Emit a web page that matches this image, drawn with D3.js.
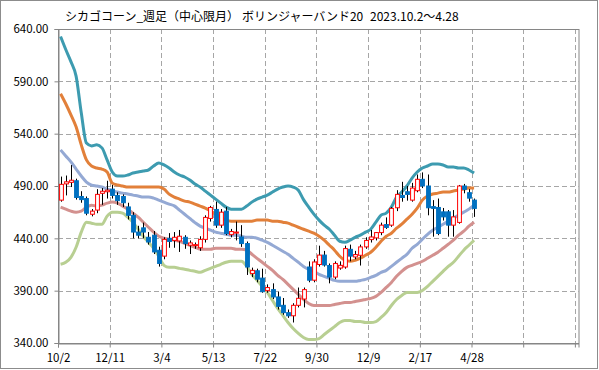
<!DOCTYPE html>
<html>
<head>
<meta charset="utf-8">
<script src="https://cdn.jsdelivr.net/npm/d3@7"></script>
<style>
  body { margin: 0; background: #fff; }
  svg { display: block; }
  text { font-family: "Noto Sans CJK JP", "Noto Sans", sans-serif; }
</style>
</head>
<body>
<div id="general"></div>
<script>
const w = 599, h = 370;

const title = ["シカゴコーン_週足（中心限月）", "ボリンジャーバンド20", "2023.10.2～4.28"];
const xLabels = ["10/2", "12/11", "3/4", "5/13", "7/22", "9/30", "12/9", "2/17", "4/28"];
const yTicks = [340, 390, 440, 490, 540, 590, 640];

// weekly candles (open / high / low / close)
const open = [476.5,492,493.5,495,480,478,463,467,483,484.5,
  487,481,480,470,462,446,450,441,443,428.6,
  423,440,438,437.5,441,433.4,433,431,439,459,
  467.6,452.6,466,443.5,445,441.3,435,406.3,409,402,
  390,391,384,376,369,366,376,382,412.6,400,
  415,424,414,403,411.6,412.6,429.5,422.2,423.8,431.8,
  438.8,440.4,445.5,453.2,452.6,469.2,481,484.5,476.5,485.5,
  496.4,490,470.3,469.5,465.3,465.3,452.6,455.2,490,483.6,476.5];
const high = [499,500,510,497,485,480,468,487,488,495,
  491,484,482,474,465,452,455,446,447,432,
  441,445,446,448,443,438,436,442,462,471,
  475,468,470,449,456,452.6,437,412,411,411,
  396,397,389,383,372,378,393,393,418,420,
  433,428,416,418,418,433,434,428,434,441,
  448,446,455,460,470,486,494,490,493,501,
  503,501,476.5,478,469,467,467,491,492,487,478];
const low = [475,481,489,477,474,462,461,464,472,478,
  478,472,470,458,440,440,440,434,425,413,
  420,431,431,427,430,425,430,428,436,456,
  450,450,443,441,438,431.8,405,403,398,388,
  388,382,372,367,364,359.6,374,374,398,398,
  413,413,397,401,410,411,418,420,414,430,
  436,438,443,449,451,466,475,476,475,484,
  488,462,441.6,443,457,441.6,441.6,454,483,475,460.5];
const close = [491.6,494,495.5,479,477,464,466,482,485,486,
  481,476,474,462,446,443,446,436.5,427,416,
  439,437,441,442,435,435.6,434,439,460,469.5,
  452.6,465,444.6,446.5,446,435,412.6,409.4,401,389,
  393,384,375,369,366,376,382.7,391,400,417.4,
  424,414.5,403,416,414.2,430.2,423,424.5,431.8,438,
  441.3,445.5,452.6,450.4,468.6,482,479,482,488,496.4,
  490,469.2,468.6,444.6,460.5,452.6,460.5,490,486.8,478.4,468.6];

// bollinger bands (+2σ, +1σ, MA20, -1σ, -2σ)
const upper2 = [632.8,620.4,608.8,595,560,531,528.3,529.3,526.4,514.9,
  503.4,499.5,499.5,500.5,502.4,503.4,504.3,505.3,509.1,512,
  510.1,507.2,503.4,500.5,498.6,495.7,491.9,489,485.1,481.3,
  477.5,473.6,469.8,467.9,467.9,467.9,470.8,474.6,477.5,479.4,
  481.3,484.2,487.1,489,490,489,486,477,469.8,463.1,
  457.4,452.6,448.7,443,437.2,436.2,438.2,441,443,445.9,
  448.7,455.4,462.1,464.1,469.8,479.4,484.2,490,497.6,503.4,
  507.2,509.1,511,511,510.1,508.2,508.2,507.2,507.2,505.3,502.4];
const upper1 = [578.2,568.6,558,546.5,529.3,514.9,509.1,507.2,506.2,503.4,
  492.8,490.9,490,489,489,489,489,489,489,489,
  487.1,482.3,479.4,477.5,475.6,474.6,472.7,470.8,468.9,466,
  463.1,460.2,457.4,456.4,456.4,456.4,456.4,456.4,457.4,457.4,
  457.4,456.4,456.4,455.4,454.5,452.6,450.6,448.7,446.8,444.9,
  442,438.2,433.4,428.7,422.9,419.1,418.1,419.1,421,423.8,
  426.7,431.5,437.2,442,444.9,449.7,453.5,458.3,463.1,468.9,
  476.5,480.4,482.3,483.2,484.2,484.2,485.2,486.1,487.1,488,488];
const middle = [524.5,518.7,513,506.2,499.5,493.8,490.9,490,489,487.1,
  485.2,484.2,483.2,482.3,481.3,480.4,479.4,479.4,478.4,476.5,
  474.6,472.7,471,467,463,459,455,451.6,449.7,447.8,
  445.9,444.9,443.9,443,443,442,441,441,440.1,438.2,
  436.2,433.4,430.5,427.6,424.7,420.9,417.1,413.2,410.4,408.5,
  405.6,403.7,401.7,399.8,398.9,398.9,398.9,398.9,399.8,400.8,
  402.7,404.6,407.5,409.4,413.2,417.1,420.9,424.7,430.5,434.3,
  439.1,443.9,447.8,450.6,453.5,456.4,459.3,462.1,465,467.9,471.7];
const lower1 = [469.8,467.9,466,465,466,469.8,471.7,470.8,471.7,473.6,
  474.6,473.6,470.8,467.9,464.1,460.2,455.4,450.6,445.9,442,
  440.1,439.1,438.2,437.2,435.3,433.4,431.5,429.6,429.6,429.6,
  430.5,430.5,430.5,430.5,429.6,429.6,428.7,424.8,420.9,417.1,
  413.2,409.4,404.6,400.8,396,391.2,386.4,381.6,377.7,375.8,
  375.8,375.8,375.8,376.8,377.7,378.7,378.7,379.7,380.6,381.6,
  382.6,384.5,388.3,393.1,397.9,403.7,408.5,412.3,414.2,416.1,
  418.1,420.9,423.8,426.7,430.5,434.3,438.2,443,446.8,451.6,455.4];
const lower2 = [415.2,417.1,421.9,431.5,445.9,455.4,454.5,453.5,453.5,461.2,
  465,465,464.1,460.2,455.4,448.7,442,436.2,430.5,422.9,
  414.2,412.3,412.3,411.3,410.4,409.4,408.5,407.5,409.4,411.3,
  413.2,415.2,417.1,418.1,418.1,418.1,413.2,405.6,400,394.1,
  388.3,380.7,373,366.3,359.6,353.8,349.1,345.2,343.3,343.3,
  344.2,348.1,351.9,355.7,359.6,361.5,361.5,360.5,360.5,359.6,
  359.6,360.5,364.4,369.2,375.8,381.6,385.4,388.3,388.3,388.3,
  390.2,394.1,398.9,403.7,408.5,413.2,417.1,422.9,428.7,433.4,438.2];

const bands = [
  { values: upper2, color: "#3d9bb0" },
  { values: upper1, color: "#e2803a" },
  { values: middle, color: "#94a9d4" },
  { values: lower1, color: "#d3918f" },
  { values: lower2, color: "#b8cf92" }
];

const plot = { l: 58, r: 578.5, t: 29, b: 343 };
const gridCol = "#a6a6a6", axisCol = "#868686";

const svg = d3.select("#general").append("svg").attr("width", w).attr("height", h);

svg.append("rect")
  .attr("x", 0.5).attr("y", 0.5).attr("width", w - 2).attr("height", h - 2)
  .attr("fill", "#fff").attr("stroke", "#8c8c8c");

const x = d3.scaleLinear().domain([0, 100.7]).range([plot.l, plot.r]);
const y = d3.scaleLinear().domain([340, 640]).range([plot.b, plot.t]);

// grid
const grid = svg.append("g");
grid.selectAll(".hg").data(yTicks.filter(d => d > 340 && d < 640)).join("line")
  .attr("x1", plot.l).attr("x2", plot.r)
  .attr("y1", d => Math.round(y(d)) + 0.5).attr("y2", d => Math.round(y(d)) + 0.5)
  .attr("stroke", gridCol).attr("stroke-dasharray", "5,3");
grid.selectAll(".vg").data(d3.range(10, 101, 10)).join("line")
  .attr("x1", d => Math.round(x(d)) + 0.5).attr("x2", d => Math.round(x(d)) + 0.5)
  .attr("y1", plot.t).attr("y2", plot.b)
  .attr("stroke", gridCol).attr("stroke-dasharray", "5,3");

// plot frame
svg.append("rect")
  .attr("x", plot.l + 0.5).attr("y", plot.t + 0.5)
  .attr("width", plot.r - plot.l).attr("height", plot.b - plot.t)
  .attr("fill", "none").attr("stroke", axisCol);

// axes
const yAxis = svg.append("g").attr("transform", `translate(${plot.l + 0.5},0)`)
  .call(d3.axisLeft(y).tickValues(yTicks).tickSize(4).tickFormat(d3.format(".2f")));
const xAxis = svg.append("g").attr("transform", `translate(0,${plot.b + 0.5})`)
  .call(d3.axisBottom(x).tickValues(d3.range(0, 101, 10)).tickSize(4)
    .tickFormat((d, i) => xLabels[i] || ""));
[yAxis, xAxis].forEach(a => {
  a.select(".domain").attr("stroke", axisCol);
  a.selectAll(".tick line").attr("stroke", axisCol);
  a.selectAll(".tick text").attr("fill", "#000").attr("font-size", 11.5)
    .attr("font-family", "'Noto Sans', sans-serif");
});
yAxis.selectAll(".tick text").attr("x", -10);
xAxis.selectAll(".tick text").attr("y", 10);

// bands
const line = d3.line().x((d, i) => x(i + 0.5)).y(d => y(d)).curve(d3.curveMonotoneX);
svg.append("g").selectAll("path").data(bands).join("path")
  .attr("d", d => line(d.values))
  .attr("fill", "none")
  .attr("stroke", d => d.color)
  .attr("stroke-width", 3)
  .attr("stroke-linejoin", "round");

// candles
const cw = 3.8;
const candles = svg.append("g").selectAll("g").data(open).join("g");
candles.append("line")
  .attr("x1", (d, i) => Math.round(x(i + 0.5)) + 0.5)
  .attr("x2", (d, i) => Math.round(x(i + 0.5)) + 0.5)
  .attr("y1", (d, i) => y(high[i])).attr("y2", (d, i) => y(low[i]))
  .attr("stroke", "#000").attr("stroke-width", 1);
candles.append("rect")
  .attr("x", (d, i) => Math.round(x(i + 0.5)) + 0.5 - cw / 2)
  .attr("y", (d, i) => y(Math.max(d, close[i])))
  .attr("width", cw)
  .attr("height", (d, i) => Math.max(1, Math.abs(y(d) - y(close[i]))))
  .attr("fill", (d, i) => close[i] >= d ? "#fff" : "#0070c0")
  .attr("stroke", (d, i) => close[i] >= d ? "#ff0000" : "#0070c0")
  .attr("stroke-width", 1);

// title
const titleX = [65, 242, 370];
title.forEach((t, i) => {
  svg.append("text")
    .attr("x", titleX[i]).attr("y", 21)
    .attr("font-size", 12).attr("fill", "#000")
    .text(t);
});
</script>
</body>
</html>
